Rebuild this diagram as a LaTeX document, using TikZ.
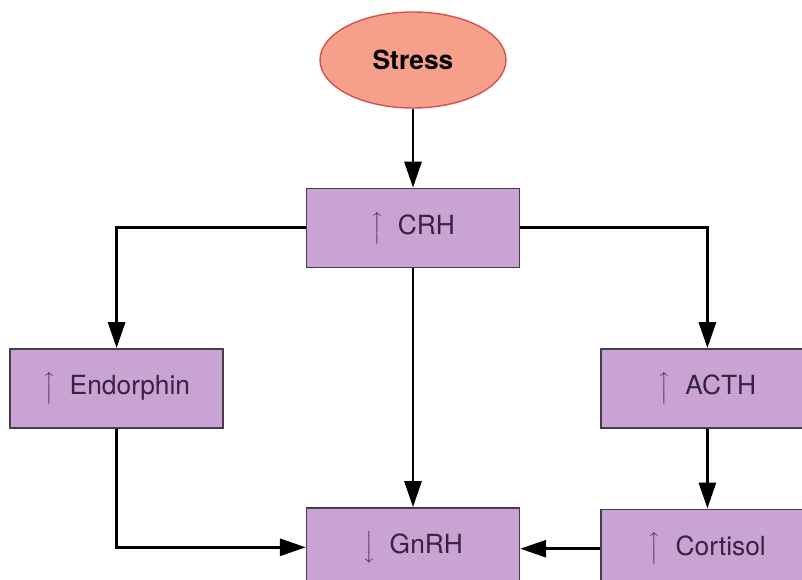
\documentclass[tikz,border=0pt]{standalone}
\usepackage{fontspec}
\setmainfont{TeX Gyre Heros}
\usepackage{tikz}
\usetikzlibrary{shapes.geometric, arrows.meta, positioning}
\definecolor{boxfill}{RGB}{201, 163, 212}
\definecolor{boxline}{RGB}{70, 60, 75}
\definecolor{boxtext}{RGB}{55, 35, 65}
\definecolor{stressfill}{RGB}{246, 160, 140}
\definecolor{stressline}{RGB}{215, 80, 75}
% level arrows inside the boxes
\newcommand{\levelup}{$\Big\uparrow$\hspace{0.3cm}}
\newcommand{\leveldown}{$\Big\downarrow$\hspace{0.3cm}}

\begin{document}
\begin{tikzpicture}[
			node distance=1.6cm and 1.6cm,
			hormone/.style={rectangle, draw=boxline, fill=boxfill, text=boxtext, line width=0.8pt, minimum width=4.26cm, minimum height=1.58cm, font=\fontsize{15}{17}\selectfont, align=center},
			trigger/.style={ellipse, draw=stressline, fill=stressfill, line width=0.8pt, minimum width=3.72cm, minimum height=1.92cm, font=\fontsize{15}{17}\selectfont\bfseries},
			flow/.style={line width=1.7pt, -{Triangle[length=0.52cm, width=0.34cm]}}
			]
			\useasboundingbox (0,0) rectangle (16.04,11.6);
			% Top
			\node[trigger] (stress) at (8.26,10.4) {Stress};
			\node[hormone, below=1.58cm of stress] (crh) {\levelup CRH};
			
			% Middle row
			\node[hormone, below left=1.6cm and 1.64cm of crh] (endo) {\levelup Endorphin};
			\node[hormone, below right=1.6cm and 1.6cm of crh] (acth) {\levelup ACTH};
			
			% Bottom row
			\node[hormone, below=4.78cm of crh] (gnrh) {\leveldown GnRH};
			\node[hormone, below=1.6cm of acth] (cort) {\levelup Cortisol};
			
			% Arrows
			\draw[flow] (stress) -- (crh);
			\draw[flow] (crh.west) -| (endo.north);
			\draw[flow] (crh.east) -| (acth.north);
			\draw[flow] (crh) -- (gnrh);
			\draw[flow] (endo.south) |- (gnrh.west);
			\draw[flow] (acth) -- (cort);
			\draw[flow] (cort.west) -- (cort.west -| gnrh.east);
		\end{tikzpicture}
\end{document}
